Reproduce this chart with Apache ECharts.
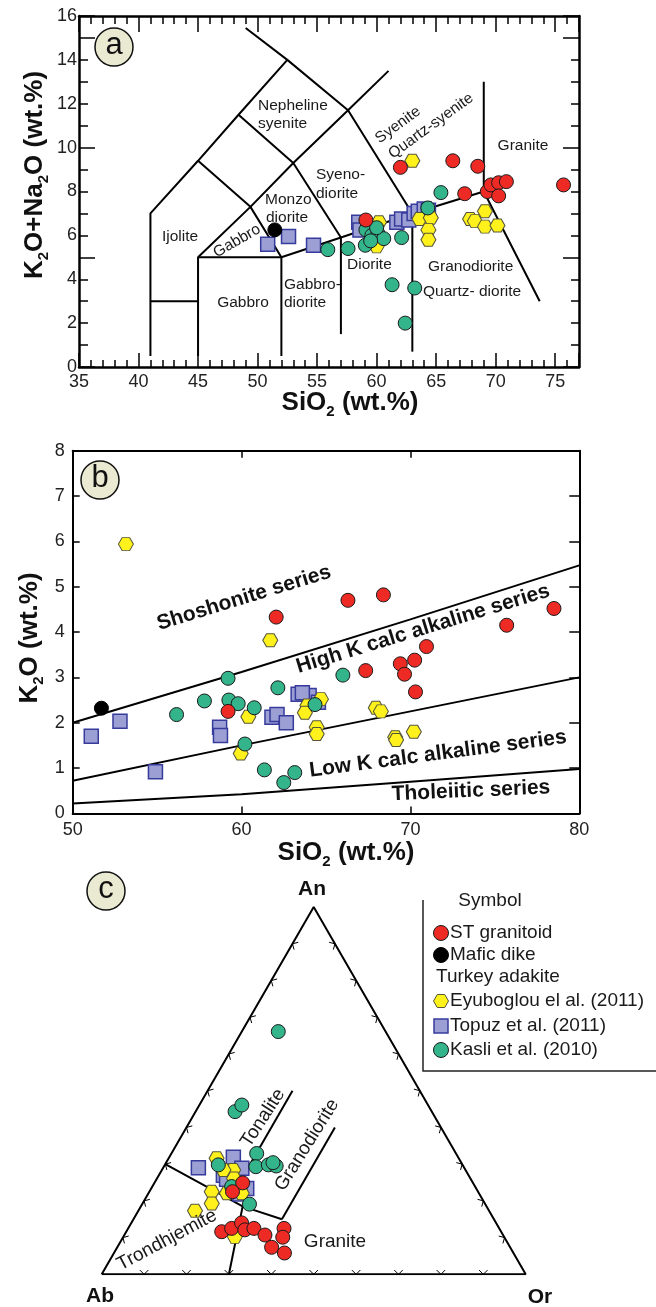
<!DOCTYPE html>
<html><head><meta charset="utf-8"><title>Classification diagrams</title>
<script src="https://cdn.jsdelivr.net/npm/echarts@6.0.0/dist/echarts.min.js"></script>
<style>html,body{margin:0;padding:0;background:#fff;}#chart{width:656px;height:1307px;}</style>
</head><body><div id="chart"></div>
<script>
// ================= DATA =================
const groupNames = ['ST granitoid', 'Mafic dike', 'Eyuboglou el al. (2011)', 'Topuz et al. (2011)', 'Kasli et al. (2010)'];

// Panel a: TAS  [SiO2, K2O+Na2O]
const tasST = [[59.1,6.7],[62.0,9.1],[66.4,9.4],[68.5,9.15],[67.4,7.9],[69.3,8.0],[69.6,8.3],[70.25,8.4],[70.9,8.45],[70.25,7.8],[75.7,8.3]];
const tasMafic = [[51.45,6.25]];
const tasEyu = [[63.0,9.4],[60.2,6.6],[60.0,5.5],[63.6,6.75],[64.55,6.8],[64.35,6.25],[64.35,5.8],[67.85,6.75],[68.25,6.65],[69.1,7.1],[69.1,6.4],[70.15,6.45]];
const tasTopuz = [[50.85,5.6],[52.6,5.95],[54.7,5.55],[58.5,6.6],[58.6,6.25],[61.7,6.6],[62.1,6.75],[62.7,6.7],[63.15,7.0],[63.5,7.1],[64.0,7.2],[64.35,7.15]];
const tasKasli = [[55.9,5.35],[57.6,5.4],[59.05,5.55],[59.1,6.25],[59.6,6.0],[60.1,6.1],[60.6,5.85],[59.5,5.75],[62.1,5.9],[64.3,7.25],[65.4,7.95],[61.3,3.75],[63.2,3.6],[62.4,2.0],[60.0,6.35]];

// Panel b: [SiO2, K2O]
const kST = [[62.05,4.33],[66.3,4.7],[68.4,4.82],[75.7,4.15],[78.5,4.52],[70.95,3.68],[67.35,3.15],[69.4,3.3],[70.25,3.38],[69.65,3.07],[70.3,2.68],[59.2,2.25]];
const kMafic = [[51.7,2.32]];
const kEyu = [[53.15,5.94],[61.7,3.82],[64.7,2.52],[63.9,2.38],[63.75,2.22],[60.4,2.13],[67.95,2.33],[68.25,2.25],[64.45,1.9],[64.45,1.75],[69.1,1.68],[69.15,1.62],[70.2,1.8],[59.95,1.32]];
const kTopuz = [[51.1,1.7],[52.8,2.03],[54.9,0.92],[58.7,1.9],[58.75,1.72],[61.8,2.12],[62.1,2.18],[62.65,2.0],[63.35,2.63],[64.0,2.6],[64.55,2.45],[63.6,2.66]];
const kKasli = [[59.2,2.98],[57.8,2.48],[56.15,2.18],[59.25,2.5],[59.8,2.42],[60.75,2.33],[62.15,2.77],[66.0,3.05],[64.35,2.4],[60.2,1.53],[61.35,0.96],[63.15,0.9],[62.5,0.68]];

// Panel c: normative feldspar  [An, Or]  (Ab = 100 - An - Or)
const fST = [[24.9,20.8],[22.5,19.6],[11.6,22.5],[12.5,24.4],[14.0,26.0],[12.1,27.7],[12.5,29.65],[10.7,33.15],[12.5,36.75],[10.1,37.65],[7.35,36.4],[5.8,40.2]];
const fEyu = [[31.6,11.3],[28.4,16.8],[26.1,18.15],[22.5,14.7],[19.3,16.3],[17.3,13.35],[22.05,18.5],[22.05,22.0],[10.2,26.3],[28.4,14.5]];
const fTopuz = [[29.0,8.3],[31.9,15.1],[28.9,18.6],[27.0,15.2],[23.4,22.5],[21.9,21.65],[25.9,16.5]];
const fKasli = [[66.1,8.6],[44.3,9.3],[46.1,10.0],[32.9,20.1],[29.3,21.7],[29.8,24.4],[29.5,26.4],[30.4,25.2],[29.8,12.6],[19.1,25.3],[23.9,18.7]];

// Classification boundaries
const tasBoundaries = [
  [[41,0.5],[41,7],[45,9.4],[48.4,11.5],[52.5,14]],
  [[49,15.45],[52.5,14],[57.6,11.7],[63,7]],
  [[41,3],[45,3]],
  [[45,0.5],[45,5],[52,5],[57,5.9],[63,7],[69,8]],
  [[52,0.5],[52,5]],
  [[57,1.5],[57,5.9]],
  [[63,0.7],[63,7]],
  [[45,5],[49.4,7.3],[53,9.3],[57.6,11.7],[61,13.5]],
  [[45,9.4],[49.4,7.3],[52,5]],
  [[48.4,11.5],[53,9.3],[57,5.9]],
  [[69,13],[69,8],[73.7,3]]
];
const k2oBoundaries = [
  [[50,2.0],[60,3.12],[70,4.28],[80,5.47]],
  [[50,0.72],[60,1.5],[70,2.25],[80,3.0]],
  [[50,0.22],[60,0.42],[70,0.7],[80,0.98]]
];
const ternBoundaries = [   // [An, Or]
  [[30,0],[18.5,24],[15,35]],
  [[0,30],[18.5,24]],
  [[20.4,20],[50,20]],
  [[15,35],[40,35]]
];
const ternTickValues = [10,20,30,40,50,60,70,80,90];

// ================= HELPERS =================
const FONT = '"Liberation Sans", Arial, Helvetica, sans-serif';
const HEX = 'path://M-10,0L-5,-8.66L5,-8.66L10,0L5,8.66L-5,8.66Z';
const STY = {
  st:    {symbol:'circle', size:14, color:'#EE2A24', border:'#1a1a1a', bw:1},
  mafic: {symbol:'circle', size:14, color:'#000000', border:'#000000', bw:1},
  eyu:   {symbol:HEX, size:[15,13], color:'#FFF21C', border:'#55553a', bw:1},
  topuz: {symbol:'rect', size:14, color:'#9C9FD4', border:'#363B9C', bw:1.5},
  kasli: {symbol:'circle', size:14, color:'#33B48B', border:'#1a1a1a', bw:1}
};
const S3 = Math.sqrt(3) / 2;
const tern = (an, or) => [or + an / 2, an * S3];

function scat(name, data, st, xi, yi) {
  return {type:'scatter', name, data, xAxisIndex:xi, yAxisIndex:yi, symbol:st.symbol, symbolSize:st.size,
    itemStyle:{color:st.color, borderColor:st.border, borderWidth:st.bw, opacity:1}, silent:true, z:5, animation:false};
}
function line(data, xi, yi, w) {
  return {type:'line', data, xAxisIndex:xi, yAxisIndex:yi, symbol:'none', silent:true, animation:false, z:2,
    lineStyle:{color:'#000', width:w || 2}};
}
function axis(o) {
  const base = {type:'value', splitLine:{show:false},
    axisLine:{show:o.line !== false, onZero:false, lineStyle:{color:'#000', width:o.lw || 2.5}},
    axisTick:{show:!!o.tick, inside:true, length:o.tick || 0, lineStyle:{color:'#000', width:1.5}},
    axisLabel:{show:!!o.label, margin:o.margin || 4, fontSize:18, color:'#222', fontFamily:FONT, formatter:o.fmt}};
  const r = Object.assign({}, o, base);
  delete r.line; delete r.lw; delete r.tick; delete r.label; delete r.margin; delete r.fmt;
  return r;
}

// ================= AXES =================
const xAxes = [
  axis({gridIndex:0, position:'bottom', min:35, max:77, interval:5, tick:14, label:true, margin:6, fmt:v => (v % 5 === 0 ? String(v) : '')}),
  axis({gridIndex:0, position:'bottom', min:35, max:77, interval:1, tick:7, line:false}),
  axis({gridIndex:0, position:'top', min:35, max:77, interval:5, tick:16}),
  axis({gridIndex:0, position:'top', min:35, max:77, interval:1, tick:8, line:false}),
  axis({gridIndex:1, position:'bottom', min:50, max:80, interval:10, tick:7, label:true, margin:8, lw:2}),
  axis({gridIndex:1, position:'top', min:50, max:80, interval:10, tick:7, lw:2}),
  {gridIndex:2, type:'value', min:0, max:100, show:false}
];
const yAxes = [
  axis({gridIndex:0, position:'left', min:0, max:16, interval:2, label:true, margin:2}),
  axis({gridIndex:0, position:'left', min:0, max:16, interval:5, tick:16, line:false}),
  axis({gridIndex:0, position:'left', min:0, max:16, interval:1, tick:9, line:false}),
  axis({gridIndex:0, position:'right', min:0, max:16, interval:5, tick:16}),
  axis({gridIndex:0, position:'right', min:0, max:16, interval:1, tick:8, line:false}),
  axis({gridIndex:1, position:'left', min:0, max:8, interval:1, tick:7, label:true, margin:8, lw:2}),
  axis({gridIndex:1, position:'right', min:0, max:8, interval:1, tick:10, lw:2}),
  {gridIndex:2, type:'value', min:0, max:100 * S3, show:false}
];

// ================= SERIES =================
const series = [];
tasBoundaries.forEach(b => series.push(line(b, 0, 0, 2)));
k2oBoundaries.forEach(b => series.push(line(b, 4, 5, 2)));
series.push(line([tern(0,0), tern(0,100), tern(100,0), tern(0,0)], 6, 7, 2));
ternBoundaries.forEach(b => series.push(line(b.map(p => tern(p[0], p[1])), 6, 7, 2)));

// ternary side ticks
const tickPts = [];
ternTickValues.forEach(t => {
  const b = tern(0, t); tickPts.push([b[0], b[1], 0, 1]);
  const l = tern(t, 0); tickPts.push([l[0], l[1], S3, -0.5]);
  const r = tern(t, 100 - t); tickPts.push([r[0], r[1], -S3, -0.5]);
});
series.push({
  type:'custom', xAxisIndex:6, yAxisIndex:7, silent:true, z:3, animation:false, data:tickPts,
  encode:{x:0, y:1},
  renderItem:(params, api) => {
    const p = api.coord([api.value(0), api.value(1)]);
    const q = api.coord([api.value(0) + api.value(2), api.value(1) + api.value(3)]);
    let dx = q[0] - p[0], dy = q[1] - p[1]; const L = Math.hypot(dx, dy); dx /= L; dy /= L;
    const a = 45 * Math.PI / 180, len = 6;
    const r1 = [dx*Math.cos(a) - dy*Math.sin(a), dx*Math.sin(a) + dy*Math.cos(a)];
    const r2 = [dx*Math.cos(-a) - dy*Math.sin(-a), dx*Math.sin(-a) + dy*Math.cos(-a)];
    return {type:'polyline', shape:{points:[[p[0]+r1[0]*len, p[1]+r1[1]*len], p, [p[0]+r2[0]*len, p[1]+r2[1]*len]]},
      style:{stroke:'#000', lineWidth:1, fill:null}};
  }
});

// scatter points (draw order: blue, yellow, green, red, black)
const panels = [
  {xi:0, yi:0, d:{st:tasST, mafic:tasMafic, eyu:tasEyu, topuz:tasTopuz, kasli:tasKasli}, f:p => p},
  {xi:4, yi:5, d:{st:kST, mafic:kMafic, eyu:kEyu, topuz:kTopuz, kasli:kKasli}, f:p => p},
  {xi:6, yi:7, d:{st:fST, mafic:[], eyu:fEyu, topuz:fTopuz, kasli:fKasli}, f:p => tern(p[0], p[1])}
];
const order = [['topuz',3],['eyu',2],['kasli',4],['st',0],['mafic',1]];
panels.forEach(P => order.forEach(([k, ni]) => {
  if (P.d[k].length) series.push(scat(groupNames[ni], P.d[k].map(P.f), STY[k], P.xi, P.yi));
}));

// ================= TEXT / GRAPHICS =================
const G = [];
const SUB = {sub:{fontSize:15, fontWeight:'bold', fontFamily:FONT, verticalAlign:'bottom', lineHeight:32, fill:'#111'}};
function txt(x, y, text, o) {
  o = o || {};
  G.push({type:'text', x, y, rotation:(o.rot || 0) * Math.PI / 180, z:20, silent:true,
    style:{text, x:0, y:0, align:o.align || 'center', verticalAlign:'middle', fill:o.color || '#1a1a1a',
      fontSize:o.size || 15.5, fontWeight:o.bold ? 'bold' : 'normal', fontFamily:FONT,
      lineHeight:o.lh, rich:o.rich}});
}
function badge(cx, cy, letter) {
  G.push({type:'circle', shape:{cx, cy, r:19}, style:{fill:'#EAEAD2', stroke:'#111', lineWidth:1.5}, z:19, silent:true});
  txt(cx, cy - 2, letter, {size:31, color:'#111'});
}

// axis titles
txt(350, 403, 'SiO{sub|2} (wt.%)', {size:26, bold:true, lh:32, rich:SUB, color:'#111'});
txt(35, 175, 'K{sub|2}O+Na{sub|2}O (wt.%)', {size:26, bold:true, lh:32, rich:SUB, rot:90, color:'#111'});
txt(346, 853, 'SiO{sub|2} (wt.%)', {size:26, bold:true, lh:32, rich:SUB, color:'#111'});
txt(30, 638, 'K{sub|2}O (wt.%)', {size:26, bold:true, lh:32, rich:SUB, rot:90, color:'#111'});

// panel a field names
txt(258, 106, 'Nepheline', {align:'left'});
txt(258, 124, 'syenite', {align:'left'});
txt(398, 125, 'Syenite', {rot:36});
txt(431, 126, 'Quartz-syenite', {rot:36});
txt(523, 146, 'Granite');
txt(316, 175, 'Syeno-', {align:'left'});
txt(316, 194, 'diorite', {align:'left'});
txt(265, 200, 'Monzo', {align:'left'});
txt(266, 218, 'diorite', {align:'left'});
txt(180, 237, 'Ijolite');
txt(237, 241, 'Gabbro', {rot:30});
txt(243, 303, 'Gabbro');
txt(284, 285, 'Gabbro-', {align:'left'});
txt(284, 303, 'diorite', {align:'left'});
txt(347, 265, 'Diorite', {align:'left'});
txt(428, 267, 'Granodiorite', {align:'left'});
txt(423, 292, 'Quartz- diorite', {align:'left'});

// panel b series names
txt(244, 598, 'Shoshonite series', {size:21, bold:true, rot:17, color:'#111'});
txt(423, 629, 'High K calc alkaline series', {size:21, bold:true, rot:17, color:'#111'});
txt(438, 754, 'Low K calc alkaline series', {size:21, bold:true, rot:7.5, color:'#111'});
txt(471, 791, 'Tholeiitic series', {size:21, bold:true, rot:2.5, color:'#111'});

// panel c
txt(312, 889, 'An', {size:21, bold:true, color:'#111'});
txt(100, 1296, 'Ab', {size:21, bold:true, color:'#111'});
txt(540, 1297, 'Or', {size:21, bold:true, color:'#111'});
txt(263, 1118, 'Tonalite', {size:19, rot:57});
txt(307, 1145, 'Granodiorite', {size:19, rot:58});
txt(167, 1240, 'Trondhjemite', {size:19, rot:28});
txt(335, 1242, 'Granite', {size:19});

badge(114, 47, 'a');
badge(100, 480, 'b');
badge(106, 891, 'c');

// legend
G.push({type:'polyline', shape:{points:[[423,900],[423,1071],[656,1071]]}, style:{stroke:'#222', lineWidth:1.5, fill:null}, z:18, silent:true});
txt(490, 901, 'Symbol', {size:19});
const legendRows = [
  {k:'st', y:933, name:groupNames[0]},
  {k:'mafic', y:955, name:groupNames[1]},
  {k:null, y:977, name:'Turkey adakite'},
  {k:'eyu', y:1001, name:groupNames[2]},
  {k:'topuz', y:1026, name:groupNames[3]},
  {k:'kasli', y:1050, name:groupNames[4]}
];
legendRows.forEach(r => {
  if (!r.k) { txt(436, r.y, r.name, {size:19, align:'left'}); return; }
  const st = STY[r.k], cx = 441, cy = r.y;
  const style = {fill:st.color, stroke:st.border, lineWidth:st.bw};
  if (r.k === 'topuz') G.push({type:'rect', shape:{x:cx-7, y:cy-7, width:14, height:14}, style, z:19, silent:true});
  else if (r.k === 'eyu') G.push({type:'polygon', shape:{points:[[cx-7.5,cy],[cx-3.75,cy-6.5],[cx+3.75,cy-6.5],[cx+7.5,cy],[cx+3.75,cy+6.5],[cx-3.75,cy+6.5]]}, style, z:19, silent:true});
  else G.push({type:'circle', shape:{cx, cy, r:7.5}, style, z:19, silent:true});
  txt(450, r.y, r.name, {size:19, align:'left'});
});

// ================= CHART =================
const chart = echarts.init(document.getElementById('chart'), null, {renderer:'canvas', width:656, height:1307});
chart.setOption({
  animation:false,
  backgroundColor:'#ffffff',
  textStyle:{fontFamily:FONT},
  grid:[
    {left:79, top:16, width:500, height:351, outerBoundsMode:'none', containLabel:false},
    {left:72.7, top:450.7, width:506.6, height:362.7, outerBoundsMode:'none', containLabel:false},
    {left:101.7, top:907.1, width:424, height:367.2, outerBoundsMode:'none', containLabel:false}
  ],
  xAxis:xAxes,
  yAxis:yAxes,
  series,
  graphic:G
});
</script></body></html>
